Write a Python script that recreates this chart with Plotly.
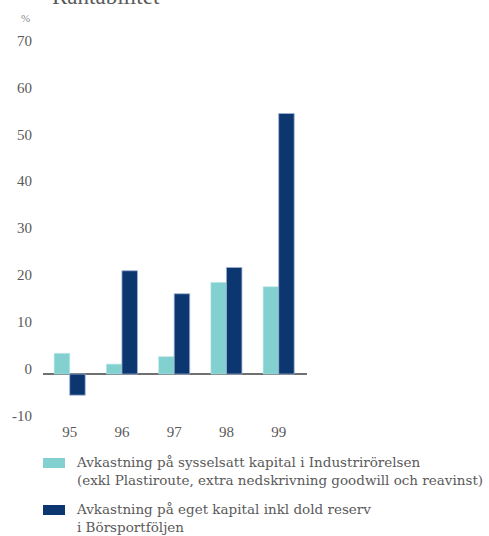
import plotly.graph_objects as go

# Return figures per year, percent
years = ["95", "96", "97", "98", "99"]
industri = [4.4, 2.1, 3.7, 19.5, 18.6]
eget_kapital = [-4.5, 22.0, 17.1, 22.7, 55.5]

series_names = [
    "Avkastning på sysselsatt kapital i Industrirörelsen<br>(exkl Plastiroute, extra nedskrivning goodwill och reavinst)",
    "Avkastning på eget kapital inkl dold reserv<br>i Börsportföljen",
]
y_ticks = [-10, 0, 10, 20, 30, 40, 50, 60, 70]
y_tick_text = ["-10", "0", "10", "20", "30", "40", "50", "60", "70"]

LIGHT = "#82d0d0"
DARK = "#0b3670"
TEXT = "#5a5a5a"
FONT = "Liberation Serif"
LEGEND_FONT = "DejaVu Serif"

W, H = 489, 536
L, R, T, B = 43, 182, 36, 115
pw, ph = W - L - R, H - T - B


def px(x):
    return (x - L) / pw


def py(y):
    return (H - B - y) / ph


fig = go.Figure()
fig.add_trace(go.Bar(x=years, y=industri, name=series_names[0],
                     marker=dict(color=LIGHT, line=dict(color="#b5e3e3", width=0.6))))
fig.add_trace(go.Bar(x=years, y=eget_kapital, name=series_names[1],
                     marker=dict(color=DARK, line=dict(color="#9fb3d1", width=0.8))))

fig.update_layout(
    width=W, height=H,
    margin=dict(l=L, r=R, t=T, b=B, pad=0),
    paper_bgcolor="white", plot_bgcolor="white",
    barmode="group", bargap=0.406, bargroupgap=0,
    showlegend=False,
    font=dict(family=FONT, color=TEXT, size=15),
    xaxis=dict(type="category", range=[-0.511, 4.542], showgrid=False,
               showline=False, ticks="", tickfont=dict(size=15, color=TEXT),
               fixedrange=True),
    yaxis=dict(range=[-10, 72], tickvals=y_ticks, ticktext=y_tick_text,
               showgrid=False, zeroline=True, zerolinecolor="#707070",
               zerolinewidth=1.5, showline=False, ticks="",
               ticklabelshift=-5, ticklabelstandoff=10,
               tickfont=dict(size=15, color=TEXT)),
)

# Heading and unit
fig.add_annotation(text="Rantabilitet", xref="paper", yref="paper",
                   x=px(50), y=py(11), xanchor="left", yanchor="bottom",
                   showarrow=False, font=dict(size=23, color=TEXT, family=FONT))
fig.add_annotation(text="%", xref="paper", yref="paper",
                   x=px(25), y=py(18), xanchor="center", yanchor="middle",
                   showarrow=False, font=dict(size=11, color="#8a8a8a", family=FONT))

# Legend drawn below the plot
legend_rows = [(463, LIGHT, series_names[0]), (510, DARK, series_names[1])]
for yc, col, name in legend_rows:
    fig.add_shape(type="rect", xref="paper", yref="paper",
                  x0=px(43), x1=px(65), y0=py(yc - 5), y1=py(yc + 5),
                  fillcolor=col, line=dict(width=0))
    fig.add_annotation(text=name, xref="paper", yref="paper",
                       x=px(74), y=py(yc - 11), xanchor="left", yanchor="top",
                       align="left", showarrow=False,
                       font=dict(size=13.5, color=TEXT, family=LEGEND_FONT))

fig.write_html("out.html")
